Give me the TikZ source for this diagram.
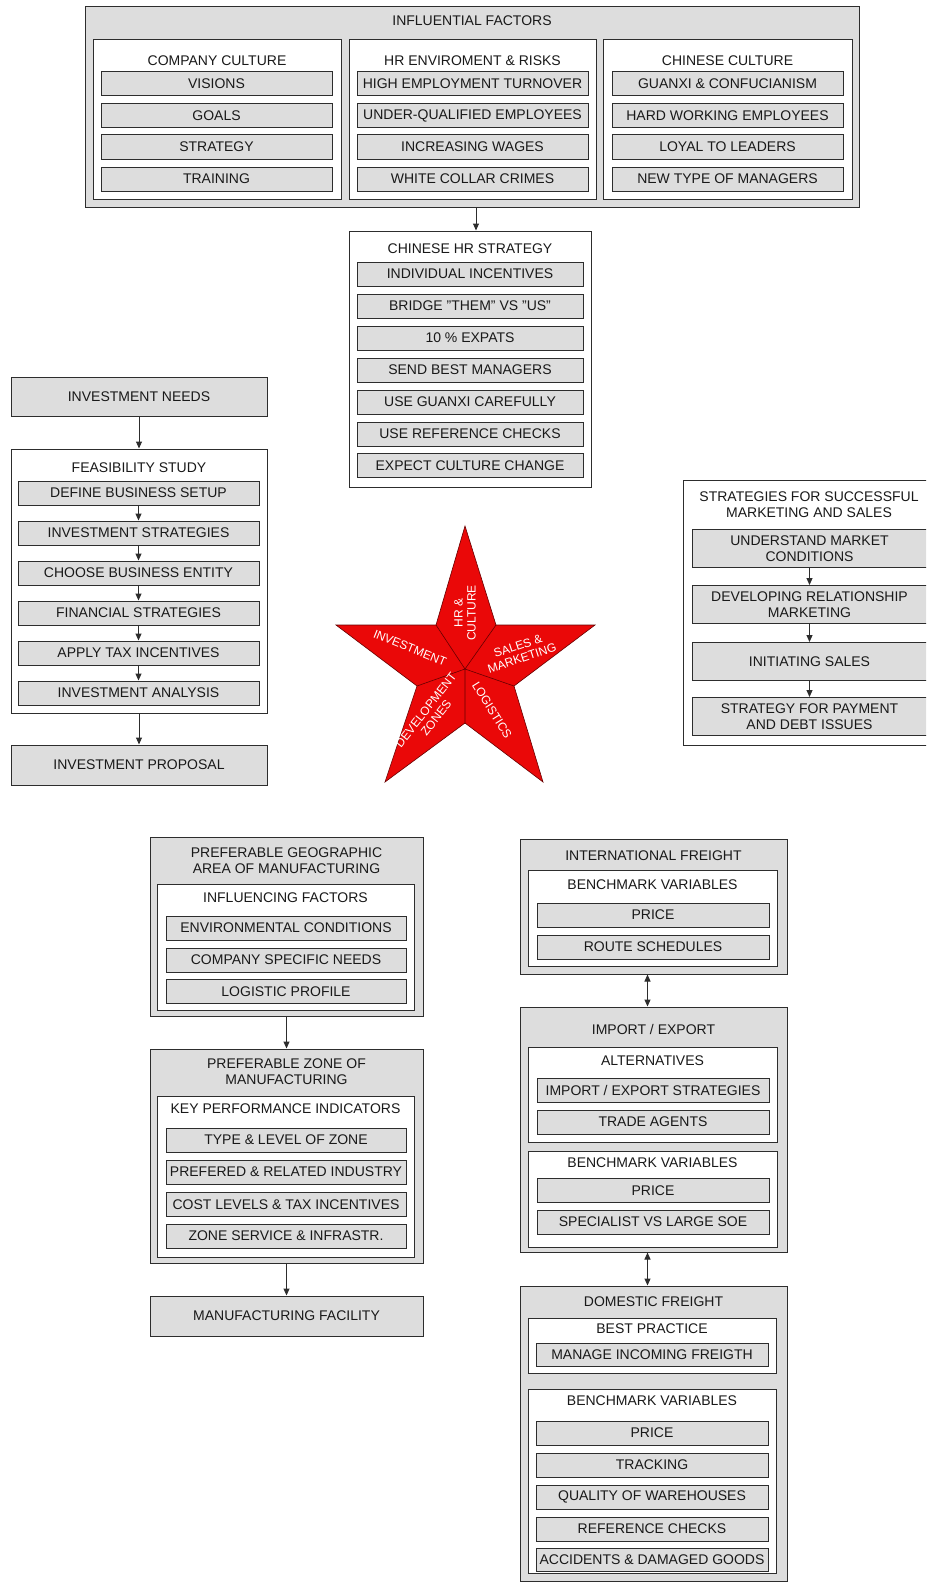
\documentclass[tikz,border=0pt]{standalone}
\usepackage{fontspec}
\setmainfont{Liberation Sans}
\usetikzlibrary{arrows.meta}

\definecolor{boxgrey}{RGB}{221,221,221}
\definecolor{linegrey}{RGB}{45,45,45}
\definecolor{starred}{RGB}{234,8,8}

\begin{document}
\begin{tikzpicture}[x=1pt, y=-1pt,
  every node/.style={font=\fontsize{14}{16}\selectfont, text=black!90},
  frame/.style={draw=linegrey, fill=boxgrey, line width=1pt, inner sep=0pt},
  group/.style={draw=linegrey, fill=white, line width=1pt, inner sep=0pt},
  item/.style={draw=linegrey, fill=boxgrey, line width=1pt, inner sep=0pt, minimum height=24pt, align=center},
  starlabel/.style={font=\fontsize{12}{13}\selectfont, text=white, align=center, inner sep=0pt},
  arr/.style={-{Triangle[length=7pt,width=6pt]}, draw=linegrey, line width=1pt},
  dbl/.style={{Triangle[length=7pt,width=6pt]}-{Triangle[length=7pt,width=6pt]}, draw=linegrey, line width=1pt}]
  \useasboundingbox (0,0) rectangle (926,1584);
  \clip (0,0) rectangle (926,1584);

  % influential factors
  \node[frame, minimum width=774pt, minimum height=200pt] (inf) at (472,107) {};
  \node (inf-t) at (472,21) {INFLUENTIAL FACTORS};
  \node[group, minimum width=248pt, minimum height=159pt] (cc) at (217,119.5) {};
  \node (cc-t) at (217,61) {COMPANY CULTURE};
  \node[item, minimum width=231pt] (cc1) at (216.5,83.5) {VISIONS};
  \node[item, minimum width=231pt] (cc2) at (216.5,115.5) {GOALS};
  \node[item, minimum width=231pt] (cc3) at (216.5,147) {STRATEGY};
  \node[item, minimum width=231pt] (cc4) at (216.5,179) {TRAINING};
  \node[group, minimum width=247pt, minimum height=159pt] (hr) at (472.5,119.5) {};
  \node (hr-t) at (472.5,61) {HR ENVIROMENT \& RISKS};
  \node[item, minimum width=231pt] (hr1) at (472.5,83.5) {HIGH EMPLOYMENT TURNOVER};
  \node[item, minimum width=231pt] (hr2) at (472.5,115.5) {UNDER-QUALIFIED EMPLOYEES};
  \node[item, minimum width=231pt] (hr3) at (472.5,147) {INCREASING WAGES};
  \node[item, minimum width=231pt] (hr4) at (472.5,179) {WHITE COLLAR CRIMES};
  \node[group, minimum width=249pt, minimum height=159pt] (ch) at (727.5,119.5) {};
  \node (ch-t) at (727.5,61) {CHINESE CULTURE};
  \node[item, minimum width=231pt] (ch1) at (727.5,83.5) {GUANXI \& CONFUCIANISM};
  \node[item, minimum width=231pt] (ch2) at (727.5,115.5) {HARD WORKING EMPLOYEES};
  \node[item, minimum width=231pt] (ch3) at (727.5,147) {LOYAL TO LEADERS};
  \node[item, minimum width=231pt] (ch4) at (727.5,179) {NEW TYPE OF MANAGERS};

  % chinese hr strategy
  \node[group, minimum width=242pt, minimum height=256pt] (chr) at (470,359) {};
  \node (chr-t) at (470,249) {CHINESE HR STRATEGY};
  \node[item, minimum width=226pt] (chr1) at (470,274) {INDIVIDUAL INCENTIVES};
  \node[item, minimum width=226pt] (chr2) at (470,306) {BRIDGE "THEM" VS "US"};
  \node[item, minimum width=226pt] (chr3) at (470,338) {10 \% EXPATS};
  \node[item, minimum width=226pt] (chr4) at (470,370) {SEND BEST MANAGERS};
  \node[item, minimum width=226pt] (chr5) at (470,402) {USE GUANXI CAREFULLY};
  \node[item, minimum width=226pt] (chr6) at (470,434) {USE REFERENCE CHECKS};
  \node[item, minimum width=226pt] (chr7) at (470,465.5) {EXPECT CULTURE CHANGE};
  \draw[arr] ([xshift=4pt]inf.south) -- ([xshift=4pt]inf.south |- chr.north);

  % investment
  \node[frame, minimum width=256pt, minimum height=39pt] (need) at (139,396.5) {INVESTMENT NEEDS};
  \node[group, minimum width=256pt, minimum height=264pt] (feas) at (139,581) {};
  \node (feas-t) at (139,468) {FEASIBILITY STUDY};
  \node[item, minimum width=241pt] (feas1) at (138.5,493) {DEFINE BUSINESS SETUP};
  \node[item, minimum width=241pt] (feas2) at (138.5,533) {INVESTMENT STRATEGIES};
  \node[item, minimum width=241pt] (feas3) at (138.5,573) {CHOOSE BUSINESS ENTITY};
  \node[item, minimum width=241pt] (feas4) at (138.5,613) {FINANCIAL STRATEGIES};
  \node[item, minimum width=241pt] (feas5) at (138.5,653) {APPLY TAX INCENTIVES};
  \node[item, minimum width=241pt] (feas6) at (138.5,693) {INVESTMENT ANALYSIS};
  \node[frame, minimum width=256pt, minimum height=40pt] (prop) at (139,765) {INVESTMENT PROPOSAL};
  \draw[arr] (need) -- (feas);
  \draw[arr] (feas1) -- (feas2);
  \draw[arr] (feas2) -- (feas3);
  \draw[arr] (feas3) -- (feas4);
  \draw[arr] (feas4) -- (feas5);
  \draw[arr] (feas5) -- (feas6);
  \draw[arr] (feas) -- (prop);

  % star
  \coordinate (s-c) at (465,669);
  \coordinate (s1) at (465,526);
  \coordinate (s2) at (496,625);
  \coordinate (s3) at (595,625);
  \coordinate (s4) at (514,686);
  \coordinate (s5) at (543,782);
  \coordinate (s6) at (465,723);
  \coordinate (s7) at (385,782);
  \coordinate (s8) at (417,686);
  \coordinate (s9) at (336,625);
  \coordinate (s10) at (436,625);
  \filldraw[fill=starred, draw=black!60!red, line width=0.6pt]
    (s1) -- (s2) -- (s3) -- (s4) -- (s5) -- (s6) -- (s7) -- (s8) -- (s9) -- (s10) -- cycle;
  \draw[black!60!red, line width=0.6pt] (s-c) -- (s2) (s-c) -- (s4) (s-c) -- (s6) (s-c) -- (s8) (s-c) -- (s10);
  \node[starlabel, rotate=90] (st-hr) at (465,613) {HR \&\\CULTURE};
  \node[starlabel, rotate=-22] (st-inv) at (410,648) {INVESTMENT};
  \node[starlabel, rotate=18] (st-sm) at (520,652) {SALES \&\\MARKETING};
  \node[starlabel, rotate=52] (st-dz) at (431,714) {DEVELOPMENT\\ZONES};
  \node[starlabel, rotate=-58] (st-lg) at (492,710) {LOGISTICS};

  % marketing and sales
  \node[group, minimum width=253pt, minimum height=265pt] (mkt) at (809.5,612.5) {};
  \node[align=center] (mkt-t) at (809,504.5) {STRATEGIES FOR SUCCESSFUL\\MARKETING AND SALES};
  \node[item, minimum width=235pt, minimum height=38pt] (mkt1) at (809.5,548.5) {UNDERSTAND MARKET\\CONDITIONS};
  \node[item, minimum width=235pt, minimum height=38pt] (mkt2) at (809.5,604.5) {DEVELOPING RELATIONSHIP\\MARKETING};
  \node[item, minimum width=235pt, minimum height=38pt] (mkt3) at (809.5,661.5) {INITIATING SALES};
  \node[item, minimum width=235pt, minimum height=38pt] (mkt4) at (809.5,716.5) {STRATEGY FOR PAYMENT\\AND DEBT ISSUES};
  \draw[arr] (mkt1) -- (mkt2);
  \draw[arr] (mkt2) -- (mkt3);
  \draw[arr] (mkt3) -- (mkt4);

  % manufacturing
  \node[frame, minimum width=273pt, minimum height=179pt] (geo) at (286.5,926.5) {};
  \node[align=center] (geo-t) at (286.5,860.5) {PREFERABLE GEOGRAPHIC\\AREA OF MANUFACTURING};
  \node[group, minimum width=257pt, minimum height=126pt] (geoinf) at (285.5,947) {};
  \node (geoinf-t) at (285.5,898) {INFLUENCING FACTORS};
  \node[item, minimum width=240pt] (geo1) at (286,928) {ENVIRONMENTAL CONDITIONS};
  \node[item, minimum width=240pt] (geo2) at (286,960) {COMPANY SPECIFIC NEEDS};
  \node[item, minimum width=240pt] (geo3) at (286,991.5) {LOGISTIC PROFILE};
  \node[frame, minimum width=273pt, minimum height=214pt] (zone) at (286.5,1156) {};
  \node[align=center] (zone-t) at (286.5,1071.5) {PREFERABLE ZONE OF\\MANUFACTURING};
  \node[group, minimum width=257pt, minimum height=161pt] (kpi) at (285.5,1176.5) {};
  \node (kpi-t) at (285.5,1109) {KEY PERFORMANCE INDICATORS};
  \node[item, minimum width=240pt] (kpi1) at (286,1140) {TYPE \& LEVEL OF ZONE};
  \node[item, minimum width=240pt] (kpi2) at (286,1172) {PREFERED \& RELATED INDUSTRY};
  \node[item, minimum width=240pt] (kpi3) at (286,1204.5) {COST LEVELS \& TAX INCENTIVES};
  \node[item, minimum width=240pt] (kpi4) at (286,1236) {ZONE SERVICE \& INFRASTR.};
  \node[frame, minimum width=273pt, minimum height=40pt] (fac) at (286.5,1316) {MANUFACTURING FACILITY};
  \draw[arr] (geo) -- (zone);
  \draw[arr] (zone) -- (fac);

  % logistics
  \node[frame, minimum width=267pt, minimum height=135pt] (intl) at (653.5,906.5) {};
  \node (intl-t) at (653.5,856) {INTERNATIONAL FREIGHT};
  \node[group, minimum width=249pt, minimum height=96pt] (intlbv) at (652.5,918) {};
  \node (intlbv-t) at (652.5,885) {BENCHMARK VARIABLES};
  \node[item, minimum width=232pt] (intl1) at (653,915) {PRICE};
  \node[item, minimum width=232pt] (intl2) at (653,947) {ROUTE SCHEDULES};

  \node[frame, minimum width=267pt, minimum height=245pt] (imex) at (653.5,1129.5) {};
  \node (imex-t) at (653.5,1029) {IMPORT / EXPORT};
  \node[group, minimum width=249pt, minimum height=95pt] (alt) at (652.5,1094.5) {};
  \node (alt-t) at (652.5,1061) {ALTERNATIVES};
  \node[item, minimum width=232pt] (alt1) at (653,1090.5) {IMPORT / EXPORT STRATEGIES};
  \node[item, minimum width=232pt] (alt2) at (653,1122) {TRADE AGENTS};
  \node[group, minimum width=249pt, minimum height=96pt] (imexbv) at (652.5,1199) {};
  \node (imexbv-t) at (652.5,1163) {BENCHMARK VARIABLES};
  \node[item, minimum width=232pt] (imex1) at (653,1190.5) {PRICE};
  \node[item, minimum width=232pt] (imex2) at (653,1222) {SPECIALIST VS LARGE SOE};

  \node[frame, minimum width=267pt, minimum height=295pt] (dom) at (653.5,1433.5) {};
  \node (dom-t) at (653.5,1302) {DOMESTIC FREIGHT};
  \node[group, minimum width=248pt, minimum height=55pt] (best) at (652,1345.5) {};
  \node (best-t) at (652,1329) {BEST PRACTICE};
  \node[item, minimum width=232pt, minimum height=23pt] (best1) at (652,1355) {MANAGE INCOMING FREIGTH};
  \node[group, minimum width=248pt, minimum height=184pt] (dombv) at (652,1481) {};
  \node (dombv-t) at (652,1401) {BENCHMARK VARIABLES};
  \node[item, minimum width=232pt] (dom1) at (652,1433) {PRICE};
  \node[item, minimum width=232pt] (dom2) at (652,1465) {TRACKING};
  \node[item, minimum width=232pt] (dom3) at (652,1497) {QUALITY OF WAREHOUSES};
  \node[item, minimum width=232pt] (dom4) at (652,1529) {REFERENCE CHECKS};
  \node[item, minimum width=232pt, minimum height=23pt] (dom5) at (652,1559.5) {ACCIDENTS \& DAMAGED GOODS};

  \draw[dbl] ([xshift=-6pt]intl.south) -- ([xshift=-6pt]imex.north);
  \draw[dbl] ([xshift=-6pt]imex.south) -- ([xshift=-6pt]dom.north);
\end{tikzpicture}
\end{document}
